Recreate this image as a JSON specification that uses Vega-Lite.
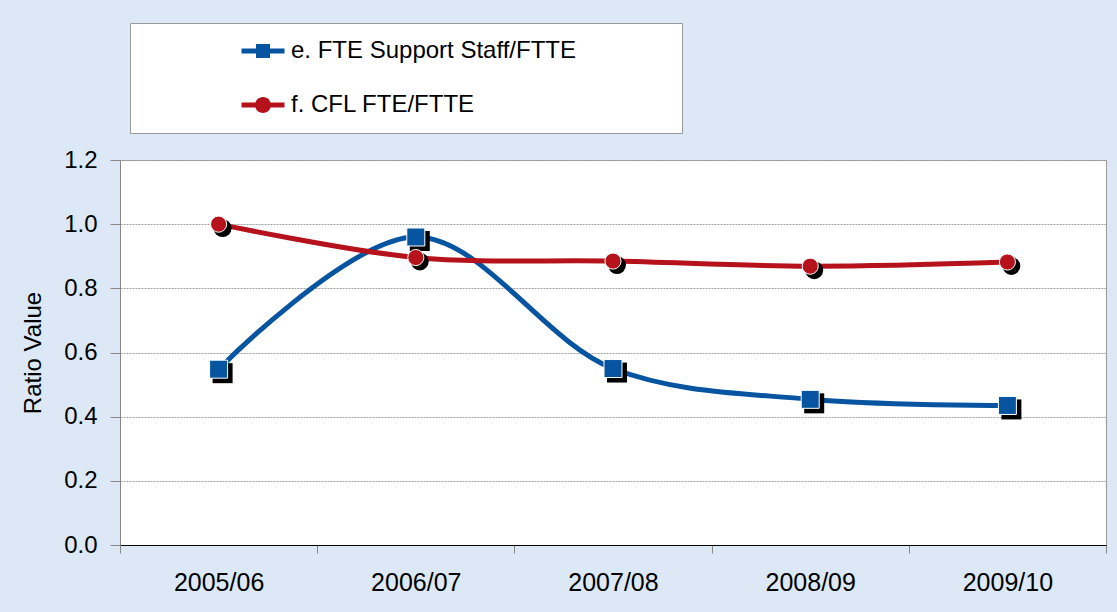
{
  "$schema": "https://vega.github.io/schema/vega-lite/v6.json",
  "width": 986,
  "height": 385,
  "autosize": "none",
  "padding": {"left": 120, "top": 160, "right": 11, "bottom": 67},
  "data": {
    "values": [
      {"year": "2005/06", "series": "e. FTE Support Staff/FTTE", "value": 0.548},
      {"year": "2006/07", "series": "e. FTE Support Staff/FTTE", "value": 0.960},
      {"year": "2007/08", "series": "e. FTE Support Staff/FTTE", "value": 0.550},
      {"year": "2008/09", "series": "e. FTE Support Staff/FTTE", "value": 0.454},
      {"year": "2009/10", "series": "e. FTE Support Staff/FTTE", "value": 0.435},
      {"year": "2005/06", "series": "f. CFL FTE/FTTE", "value": 1.0},
      {"year": "2006/07", "series": "f. CFL FTE/FTTE", "value": 0.896},
      {"year": "2007/08", "series": "f. CFL FTE/FTTE", "value": 0.885},
      {"year": "2008/09", "series": "f. CFL FTE/FTTE", "value": 0.869},
      {"year": "2009/10", "series": "f. CFL FTE/FTTE", "value": 0.882}
    ]
  },
  "encoding": {
    "x": {
      "field": "year", "type": "nominal", "sort": null,
      "scale": {"type": "band", "paddingInner": 0, "paddingOuter": 0},
      "axis": {"title": null, "labelAngle": 0, "labelFontSize": 25, "labelColor": "black", "labelPadding": 17, "tickSize": 8, "tickBand": "extent", "tickColor": "#888888", "domainColor": "black", "domainWidth": 1.2, "grid": false}
    },
    "y": {
      "field": "value", "type": "quantitative",
      "scale": {"domain": [0, 1.2], "nice": false},
      "axis": {"title": "Ratio Value", "titleFontSize": 24, "titleFontWeight": "normal", "titleColor": "black", "titlePadding": 18, "labelFontSize": 24, "labelColor": "black", "labelPadding": 13, "tickSize": 10, "tickColor": "#888888", "domainColor": "#888888", "gridColor": "#a0a0a0", "gridDash": [2, 1], "values": [0, 0.2, 0.4, 0.6, 0.8, 1.0, 1.2], "format": ".1f"}
    }
  },
  "layer": [
    {
      "transform": [{"filter": "datum.series == 'e. FTE Support Staff/FTTE'"}],
      "mark": {"type": "line", "interpolate": "catmull-rom", "color": "#0754A0", "strokeWidth": 5}
    },
    {
      "transform": [{"filter": "datum.series == 'e. FTE Support Staff/FTTE'"}],
      "mark": {"type": "point", "shape": "square", "filled": true, "color": "black", "opacity": 1, "size": 400, "xOffset": 4, "yOffset": 4}
    },
    {
      "transform": [{"filter": "datum.series == 'e. FTE Support Staff/FTTE'"}],
      "mark": {"type": "point", "shape": "square", "filled": true, "fill": "#0754A0", "stroke": "white", "strokeWidth": 1, "opacity": 1, "size": 324}
    },
    {
      "transform": [{"filter": "datum.series == 'f. CFL FTE/FTTE'"}],
      "mark": {"type": "line", "interpolate": "catmull-rom", "color": "#B5121B", "strokeWidth": 5}
    },
    {
      "transform": [{"filter": "datum.series == 'f. CFL FTE/FTTE'"}],
      "mark": {"type": "point", "shape": "circle", "filled": true, "color": "black", "opacity": 1, "size": 320, "xOffset": 4, "yOffset": 4}
    },
    {
      "transform": [{"filter": "datum.series == 'f. CFL FTE/FTTE'"}],
      "mark": {"type": "point", "shape": "circle", "filled": true, "fill": "#B5121B", "stroke": "white", "strokeWidth": 1, "opacity": 1, "size": 260}
    },
    {
      "mark": {"type": "point", "filled": true, "opacity": 0, "size": 400},
      "encoding": {
        "color": {
          "field": "series", "type": "nominal",
          "scale": {"range": ["#0754A0", "#B5121B"]},
          "legend": {"title": "\u00a0", "titleOrient": "right", "titlePadding": 90, "titleFontSize": 24, "orient": "none", "legendX": 10, "legendY": -137, "fillColor": "white", "strokeColor": "#999999", "padding": 16, "symbolOffset": 105, "labelOffset": 16, "rowPadding": 30, "labelFontSize": 24, "labelColor": "black", "symbolSize": 400, "symbolStrokeWidth": 0, "symbolOpacity": 1, "labelLimit": 800}
        },
        "shape": {
          "field": "series", "type": "nominal",
          "scale": {"range": ["M-2.15,-0.25H2.15V0.25H-2.15Z M-0.7,-0.7H0.7V0.7H-0.7Z", "M-2.15,-0.25H2.15V0.25H-2.15Z M-0.8,0A0.8,0.8 0 1,1 0.8,0A0.8,0.8 0 1,1 -0.8,0Z"]},
          "legend": {"title": "\u00a0", "titleOrient": "right", "titlePadding": 90, "titleFontSize": 24, "orient": "none", "legendX": 10, "legendY": -137, "fillColor": "white", "strokeColor": "#999999", "padding": 16, "symbolOffset": 105, "labelOffset": 16, "rowPadding": 30, "labelFontSize": 24, "labelColor": "black", "symbolSize": 400, "symbolStrokeWidth": 0, "symbolOpacity": 1, "labelLimit": 800}
        }
      }
    }
  ],
  "config": {
    "background": "#dce8f5",
    "font": "Liberation Sans",
    "view": {"fill": "white", "stroke": "#999999"}
  }
}
